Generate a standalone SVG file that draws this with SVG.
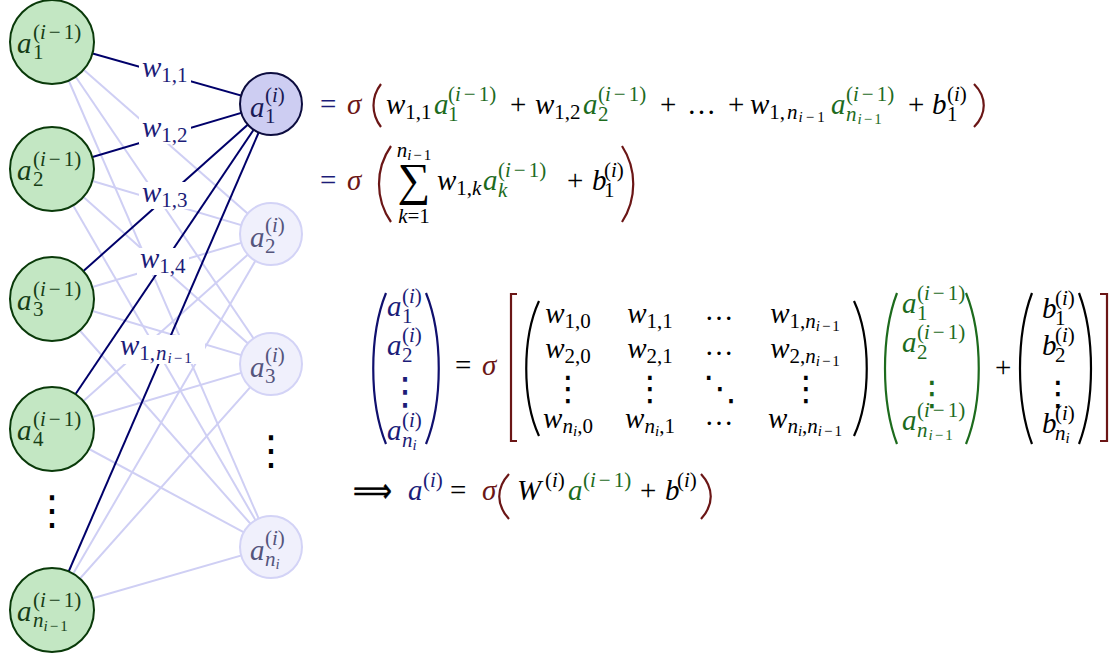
<svg xmlns="http://www.w3.org/2000/svg" width="1117" height="657" viewBox="0 0 1117 657">
<style>
.t{font-family:"Liberation Serif","Times New Roman",serif;fill:#000}
.it{font-style:italic}
.rm{font-style:normal}
.m{font-size:29px}
.s{font-size:21px}
.ss{font-size:15px}
.d{font-family:"DejaVu Sans",sans-serif;font-size:34px;text-anchor:middle;fill:#000}
.nv{fill:#1c1c78}
.gr{fill:#1d6b1d}
.dr{fill:#6b1616}
.gt{fill:#163d16}
.bt{fill:#1a1a55}
.ft{fill:#55557c}
.mid{text-anchor:middle}
.lt{stroke:#cfcff4;stroke-width:2;fill:none}
.dk{stroke:#00006a;stroke-width:2;fill:none}
.gn{fill:#c3e7c3;stroke:#0a3a0a;stroke-width:2}
.bn{fill:#cdcdf2;stroke:#0d0d3f;stroke-width:2}
.fn{fill:#f0f0fc;stroke:#d3d3f6;stroke-width:2}
.pk{fill:none;stroke:#000;stroke-width:2.2}
.pn{fill:none;stroke:#10106e;stroke-width:2.2}
.pg{fill:none;stroke:#1d6b1d;stroke-width:2.2}
.pr{fill:none;stroke:#6b1616;stroke-width:2.2}
.lb{fill:#fff}
</style>

<g id="connectors">
  <g id="light-edges">
    <line class="lt" x1="52" y1="42" x2="271" y2="234"/>
    <line class="lt" x1="52" y1="42" x2="271" y2="364"/>
    <line class="lt" x1="52" y1="42" x2="271" y2="547"/>
    <line class="lt" x1="52" y1="169" x2="271" y2="234"/>
    <line class="lt" x1="52" y1="169" x2="271" y2="364"/>
    <line class="lt" x1="52" y1="169" x2="271" y2="547"/>
    <line class="lt" x1="52" y1="299" x2="271" y2="234"/>
    <line class="lt" x1="52" y1="299" x2="271" y2="364"/>
    <line class="lt" x1="52" y1="299" x2="271" y2="547"/>
    <line class="lt" x1="52" y1="429" x2="271" y2="234"/>
    <line class="lt" x1="52" y1="429" x2="271" y2="364"/>
    <line class="lt" x1="52" y1="429" x2="271" y2="547"/>
    <line class="lt" x1="52" y1="610" x2="271" y2="234"/>
    <line class="lt" x1="52" y1="610" x2="271" y2="364"/>
    <line class="lt" x1="52" y1="610" x2="271" y2="547"/>
  </g>
  <g id="dark-edges">
    <line class="dk" x1="52" y1="42" x2="271" y2="104"/>
    <line class="dk" x1="52" y1="169" x2="271" y2="104"/>
    <line class="dk" x1="52" y1="299" x2="271" y2="104"/>
    <line class="dk" x1="52" y1="429" x2="271" y2="104"/>
    <line class="dk" x1="52" y1="610" x2="271" y2="104"/>
  </g>
  <g id="edge-labels">
    <rect class="lb" x="139" y="57" width="52" height="27"/>
    <text class="t it m nv" x="142" y="77">w<tspan class="s rm" dy="5">1,1</tspan></text>
    <rect class="lb" x="139" y="117" width="52" height="27"/>
    <text class="t it m nv" x="142" y="137">w<tspan class="s rm" dy="5">1,2</tspan></text>
    <rect class="lb" x="139" y="182" width="52" height="27"/>
    <text class="t it m nv" x="142" y="202">w<tspan class="s rm" dy="5">1,3</tspan></text>
    <rect class="lb" x="137" y="248" width="52" height="27"/>
    <text class="t it m nv" x="140" y="268">w<tspan class="s rm" dy="5">1,4</tspan></text>
    <rect class="lb" x="117" y="335" width="88" height="29"/>
    <text class="t it m nv" x="120" y="355">w<tspan class="s rm" dy="5">1,</tspan><tspan class="s" dx="1">n</tspan><tspan class="ss" dy="3" dx="1">i<tspan class="rm" dx="2">−</tspan><tspan class="rm" dx="2">1</tspan></tspan></text>
  </g>
</g>

<g id="node-l1">
  <circle class="gn" cx="52" cy="42" r="42"/>
  <text class="t it m gt" x="17" y="53">a<tspan class="s rm" x="33" y="39">(<tspan class="it">i</tspan><tspan dx="3">−</tspan><tspan dx="3">1)</tspan></tspan><tspan class="s rm" x="33" y="59">1</tspan></text>
</g>
<g id="node-l2">
  <circle class="gn" cx="52" cy="169" r="42"/>
  <text class="t it m gt" x="17" y="180">a<tspan class="s rm" x="33" y="166">(<tspan class="it">i</tspan><tspan dx="3">−</tspan><tspan dx="3">1)</tspan></tspan><tspan class="s rm" x="33" y="186">2</tspan></text>
</g>
<g id="node-l3">
  <circle class="gn" cx="52" cy="299" r="42"/>
  <text class="t it m gt" x="17" y="310">a<tspan class="s rm" x="33" y="296">(<tspan class="it">i</tspan><tspan dx="3">−</tspan><tspan dx="3">1)</tspan></tspan><tspan class="s rm" x="33" y="316">3</tspan></text>
</g>
<g id="node-l4">
  <circle class="gn" cx="52" cy="429" r="42"/>
  <text class="t it m gt" x="17" y="440">a<tspan class="s rm" x="33" y="426">(<tspan class="it">i</tspan><tspan dx="3">−</tspan><tspan dx="3">1)</tspan></tspan><tspan class="s rm" x="33" y="446">4</tspan></text>
</g>
<g id="left-dots">
  <text class="d" x="52" y="524" style="font-size:40px">⋮</text>
</g>
<g id="node-ln">
  <circle class="gn" cx="52" cy="610" r="42"/>
  <text class="t it m gt" x="17" y="621">a<tspan class="s rm" x="33" y="607">(<tspan class="it">i</tspan><tspan dx="3">−</tspan><tspan dx="3">1)</tspan></tspan><tspan class="s" x="33" y="627">n</tspan><tspan class="ss" dy="4">i<tspan class="rm" dx="2">−</tspan><tspan class="rm" dx="2">1</tspan></tspan></text>
</g>

<g id="node-r1">
  <circle class="bn" cx="271" cy="104" r="31"/>
  <text class="t it m bt" x="250" y="117">a<tspan class="s rm" x="265" y="102">(<tspan class="it">i</tspan>)</tspan><tspan class="s rm" x="265" y="123">1</tspan></text>
</g>
<g id="node-r2">
  <circle class="fn" cx="271" cy="234" r="31"/>
  <text class="t it m ft" x="250" y="247">a<tspan class="s rm" x="265" y="232">(<tspan class="it">i</tspan>)</tspan><tspan class="s rm" x="265" y="253">2</tspan></text>
</g>
<g id="node-r3">
  <circle class="fn" cx="271" cy="364" r="31"/>
  <text class="t it m ft" x="250" y="377">a<tspan class="s rm" x="265" y="362">(<tspan class="it">i</tspan>)</tspan><tspan class="s rm" x="265" y="383">3</tspan></text>
</g>
<g id="right-dots">
  <text class="d" x="271" y="464" style="font-size:40px">⋮</text>
</g>
<g id="node-rn">
  <circle class="fn" cx="271" cy="547" r="31"/>
  <text class="t it m ft" x="250" y="560">a<tspan class="s rm" x="265" y="545">(<tspan class="it">i</tspan>)</tspan><tspan class="s" x="265" y="566">n</tspan><tspan class="ss" dy="3">i</tspan></text>
</g>

<g id="eq1">
  <text class="t m nv" x="320" y="114">=</text>
  <text class="t m it dr" x="347" y="114">σ</text>
  <path class="pr" d="M381,84 C371,97 371,114 381,127"/>
  <text class="t m it" x="386" y="114">w<tspan class="s rm" dy="5">1,1</tspan></text>
  <text class="t m it gr" x="434" y="114">a<tspan class="s rm" x="448" y="101">(<tspan class="it">i</tspan><tspan dx="3">−</tspan><tspan dx="3">1)</tspan></tspan><tspan class="s rm" x="448" y="121">1</tspan></text>
  <text class="t m" x="510" y="114">+</text>
  <text class="t m it" x="535" y="114">w<tspan class="s rm" dy="5">1,2</tspan></text>
  <text class="t m it gr" x="583" y="114">a<tspan class="s rm" x="598" y="101">(<tspan class="it">i</tspan><tspan dx="3">−</tspan><tspan dx="3">1)</tspan></tspan><tspan class="s rm" x="598" y="121">2</tspan></text>
  <text class="t m" x="660" y="114">+</text>
  <text class="t m" x="687" y="114">…</text>
  <text class="t m" x="728" y="114">+</text>
  <text class="t m it" x="750" y="114">w<tspan class="s rm" dy="5">1,</tspan><tspan class="s" dx="2">n</tspan><tspan class="ss" dy="3" dx="1">i<tspan class="rm" dx="3">−</tspan><tspan class="rm" dx="3">1</tspan></tspan></text>
  <text class="t m it gr" x="831" y="114">a<tspan class="s rm" x="846" y="101">(<tspan class="it">i</tspan><tspan dx="3">−</tspan><tspan dx="3">1)</tspan></tspan><tspan class="s" x="846" y="121">n</tspan><tspan class="ss" dy="3" dx="1">i<tspan class="rm" dx="2">−</tspan><tspan class="rm" dx="2">1</tspan></tspan></text>
  <text class="t m" x="908" y="114">+</text>
  <text class="t m it" x="932" y="114">b<tspan class="s rm" x="947" y="101">(<tspan class="it">i</tspan>)</tspan><tspan class="s rm" x="947" y="121">1</tspan></text>
  <path class="pr" d="M974,84 C987,97 987,114 974,127"/>
</g>

<g id="eq2">
  <text class="t m nv" x="320" y="190">=</text>
  <text class="t m it dr" x="347" y="190">σ</text>
  <path class="pr" d="M391,146 C375,169 375,199 391,222"/>
  <text class="t mid" x="414" y="157"><tspan class="s it">n<tspan class="ss" dy="3">i<tspan class="rm" dx="2">−</tspan><tspan class="rm" dx="2">1</tspan></tspan></tspan><tspan x="414" y="195" style="font-size:46px">∑</tspan><tspan class="s" x="414" y="223"><tspan class="it">k</tspan>=1</tspan></text>
  <text class="t m it" x="437" y="190">w<tspan class="s rm" dy="5">1,</tspan><tspan class="s">k</tspan></text>
  <text class="t m it gr" x="483" y="190">a<tspan class="s rm" x="498" y="177">(<tspan class="it">i</tspan><tspan dx="3">−</tspan><tspan dx="3">1)</tspan></tspan><tspan class="s" x="498" y="197">k</tspan></text>
  <text class="t m" x="567" y="190">+</text>
  <text class="t m it" x="592" y="190">b<tspan class="s rm" x="604" y="177">(<tspan class="it">i</tspan>)</tspan><tspan class="s rm" x="604" y="197">1</tspan></text>
  <path class="pr" d="M622,146 C637,169 637,199 622,222"/>
</g>

<g id="eq-matrix">
  <path class="pn" d="M386,293 C369,335 369,402 386,444"/>
  <text class="t m it nv" x="387" y="316">a<tspan class="s rm" x="402" y="303">(<tspan class="it">i</tspan>)</tspan><tspan class="s rm" x="402" y="323">1</tspan></text>
  <text class="t m it nv" x="387" y="355">a<tspan class="s rm" x="402" y="342">(<tspan class="it">i</tspan>)</tspan><tspan class="s rm" x="402" y="362">2</tspan></text>
  <text class="d nv" x="405" y="404" style="font-size:38px">⋮</text>
  <text class="t m it nv" x="387" y="440">a<tspan class="s rm" x="402" y="427">(<tspan class="it">i</tspan>)</tspan><tspan class="s" x="402" y="447">n</tspan><tspan class="ss" dy="3">i</tspan></text>
  <path class="pn" d="M426,293 C443,335 443,402 426,444"/>

  <text class="t m" x="455" y="375">=</text>
  <text class="t m it dr" x="482" y="375">σ</text>
  <path class="pr" d="M517,294 L511,294 L511,441 L517,441"/>

  <path class="pk" d="M539,301 C522,338 522,399 539,436"/>
  <text class="t m it mid" x="568" y="323">w<tspan class="s rm" dy="5">1,0</tspan></text>
  <text class="t m it mid" x="650" y="323">w<tspan class="s rm" dy="5">1,1</tspan></text>
  <text class="t m mid" x="719" y="320">…</text>
  <text class="t m it mid" x="805" y="323">w<tspan class="s rm" dy="5">1,</tspan><tspan class="s">n</tspan><tspan class="ss" dy="3">i<tspan class="rm" dx="2">−</tspan><tspan class="rm" dx="2">1</tspan></tspan></text>
  <text class="t m it mid" x="568" y="358">w<tspan class="s rm" dy="5">2,0</tspan></text>
  <text class="t m it mid" x="650" y="358">w<tspan class="s rm" dy="5">2,1</tspan></text>
  <text class="t m mid" x="719" y="355">…</text>
  <text class="t m it mid" x="805" y="358">w<tspan class="s rm" dy="5">2,</tspan><tspan class="s">n</tspan><tspan class="ss" dy="3">i<tspan class="rm" dx="2">−</tspan><tspan class="rm" dx="2">1</tspan></tspan></text>
  <text class="d" x="568" y="400">⋮</text>
  <text class="d" x="650" y="400">⋮</text>
  <text class="d" x="720" y="400">⋱</text>
  <text class="d" x="806" y="400">⋮</text>
  <text class="t m it mid" x="568" y="428">w<tspan class="s" dy="5">n</tspan><tspan class="ss" dy="3">i</tspan><tspan class="s rm" dy="-3">,0</tspan></text>
  <text class="t m it mid" x="650" y="428">w<tspan class="s" dy="5">n</tspan><tspan class="ss" dy="3">i</tspan><tspan class="s rm" dy="-3">,1</tspan></text>
  <text class="t m mid" x="719" y="425">…</text>
  <text class="t m it mid" x="805" y="428">w<tspan class="s" dy="5">n</tspan><tspan class="ss" dy="3">i</tspan><tspan class="s rm" dy="-3">,</tspan><tspan class="s">n</tspan><tspan class="ss" dy="3">i<tspan class="rm" dx="2">−</tspan><tspan class="rm" dx="2">1</tspan></tspan></text>
  <path class="pk" d="M854,301 C871,338 871,399 854,436"/>

  <path class="pg" d="M897,293 C881,335 881,402 897,444"/>
  <text class="t m it gr" x="902" y="313">a<tspan class="s rm" x="917" y="300">(<tspan class="it">i</tspan><tspan dx="3">−</tspan><tspan dx="3">1)</tspan></tspan><tspan class="s rm" x="917" y="320">1</tspan></text>
  <text class="t m it gr" x="902" y="352">a<tspan class="s rm" x="917" y="339">(<tspan class="it">i</tspan><tspan dx="3">−</tspan><tspan dx="3">1)</tspan></tspan><tspan class="s rm" x="917" y="359">2</tspan></text>
  <text class="d gr" x="932" y="405">⋮</text>
  <text class="t m it gr" x="902" y="430">a<tspan class="s rm" x="917" y="417">(<tspan class="it">i</tspan><tspan dx="3">−</tspan><tspan dx="3">1)</tspan></tspan><tspan class="s" x="917" y="437">n</tspan><tspan class="ss" dy="3" dx="1">i<tspan class="rm" dx="2">−</tspan><tspan class="rm" dx="2">1</tspan></tspan></text>
  <path class="pg" d="M966,293 C983,335 983,402 966,444"/>

  <text class="t m" x="995" y="377">+</text>

  <path class="pk" d="M1032,293 C1016,335 1016,402 1032,444"/>
  <text class="t m it" x="1042" y="318">b<tspan class="s rm" x="1055" y="305">(<tspan class="it">i</tspan>)</tspan><tspan class="s rm" x="1055" y="325">1</tspan></text>
  <text class="t m it" x="1042" y="355">b<tspan class="s rm" x="1055" y="342">(<tspan class="it">i</tspan>)</tspan><tspan class="s rm" x="1055" y="362">2</tspan></text>
  <text class="d" x="1058" y="405">⋮</text>
  <text class="t m it" x="1042" y="433">b<tspan class="s rm" x="1055" y="420">(<tspan class="it">i</tspan>)</tspan><tspan class="s" x="1055" y="440">n</tspan><tspan class="ss" dy="3">i</tspan></text>
  <path class="pk" d="M1079,293 C1095,335 1095,402 1079,444"/>

  <path class="pr" d="M1100,294 L1107,294 L1107,441 L1100,441"/>
</g>

<g id="eq-final">
  <text x="353" y="502" textLength="39" lengthAdjust="spacingAndGlyphs" style="font-family:'DejaVu Sans',sans-serif;font-size:34px;stroke:#000;stroke-width:0.5">⟹</text>
  <text class="t m it nv" x="408" y="500">a<tspan class="s rm" x="423" y="487">(<tspan class="it">i</tspan>)</tspan></text>
  <text class="t m" x="450" y="500">=</text>
  <text class="t m it dr" x="482" y="500">σ</text>
  <path class="pr" d="M509,474 C496,488 496,505 509,519"/>
  <text class="t m it" x="517" y="500">W<tspan class="s rm" x="545" y="487">(<tspan class="it">i</tspan>)</tspan></text>
  <text class="t m it gr" x="568" y="500">a<tspan class="s rm" x="583" y="487">(<tspan class="it">i</tspan><tspan dx="3">−</tspan><tspan dx="3">1)</tspan></tspan></text>
  <text class="t m" x="640" y="500">+</text>
  <text class="t m it" x="665" y="500">b<tspan class="s rm" x="677" y="487">(<tspan class="it">i</tspan>)</tspan></text>
  <path class="pr" d="M701,474 C714,488 714,505 701,519"/>
</g>
</svg>
